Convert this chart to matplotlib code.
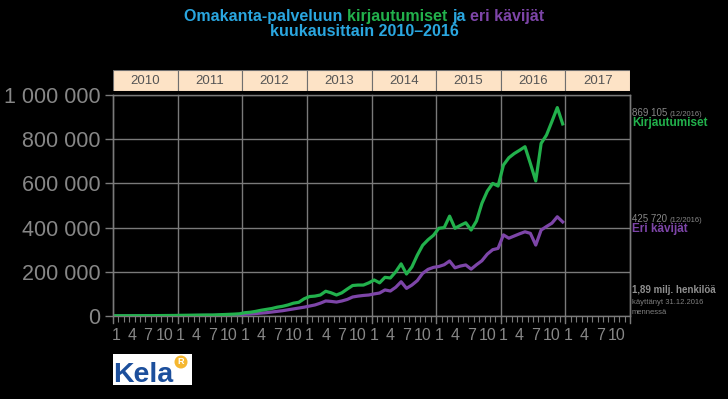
import matplotlib
matplotlib.use("Agg")
import matplotlib.pyplot as plt
import numpy as np
from matplotlib.patches import Rectangle, Circle

plt.rcParams['font.family'] = ['Liberation Sans', 'DejaVu Sans']

# monthly values, Jan..Dec
years = ["2010", "2011", "2012", "2013", "2014", "2015", "2016", "2017"]
month_labels = ["1", "4", "7", "10"]

logins_2010 = [1000, 1100, 1200, 1300, 1400, 1500, 1400, 1600, 1900, 2100, 2300, 2500]
logins_2011 = [3000, 3300, 3600, 4000, 4300, 4600, 4500, 5500, 6500, 7500, 8500, 10000]
logins_2012 = [15000, 17000, 21000, 26000, 30000, 34000, 40000, 44000, 50000, 58000, 62000, 78000]
logins_2013 = [88000, 90000, 95000, 112000, 105000, 95000, 105000, 122000, 138000, 140000, 140000, 150000]
logins_2014 = [163000, 150000, 175000, 172000, 200000, 236000, 190000, 222000, 275000, 320000, 345000, 365000]
logins_2015 = [397000, 400000, 452000, 397000, 410000, 422000, 389000, 430000, 510000, 565000, 600000, 588000]
logins_2016 = [683000, 716000, 735000, 750000, 766000, 690000, 611000, 781000, 819000, 880000, 943000, 869105]

visitors_2010 = [300, 500, 600, 700, 800, 900, 800, 900, 1100, 1200, 1300, 1400]
visitors_2011 = [1600, 1800, 2000, 2200, 2400, 2600, 2500, 3000, 3500, 4000, 4500, 5500]
visitors_2012 = [8000, 9000, 11000, 13000, 15000, 18000, 21000, 24000, 28000, 32000, 36000, 40000]
visitors_2013 = [45000, 50000, 58000, 68000, 66000, 63000, 68000, 75000, 86000, 90000, 93000, 95000]
visitors_2014 = [100000, 104000, 118000, 113000, 130000, 155000, 125000, 140000, 160000, 193000, 211000, 220000]
visitors_2015 = [224000, 232000, 249000, 218000, 226000, 231000, 212000, 232000, 250000, 280000, 300000, 306000]
visitors_2016 = [367000, 352000, 362000, 372000, 381000, 374000, 321000, 389000, 405000, 420000, 449000, 425720]

logins = np.array(logins_2010 + logins_2011 + logins_2012 + logins_2013
                  + logins_2014 + logins_2015 + logins_2016)
visitors = np.array(visitors_2010 + visitors_2011 + visitors_2012 + visitors_2013
                    + visitors_2014 + visitors_2015 + visitors_2016)

BLUE = '#2aa6df'
GREEN = '#22b14c'
PURPLE = '#7d45a8'
GRID = '#7a7a7a'
LABEL = '#878787'

W, H = 728, 399
fig = plt.figure(figsize=(W / 100, H / 100), dpi=100, facecolor='black')
renderer = fig.canvas.get_renderer()


def px(x, y):
    """pixel position (from top left) -> figure fraction"""
    return x / W, 1 - y / H


# main axes
x0, x1, ytop, ybot = 113, 630, 95, 316
ax = fig.add_axes([x0 / W, 1 - ybot / H, (x1 - x0) / W, (ybot - ytop) / H])
ax.set_facecolor('black')
n_slots = 12 * len(years)
ax.set_xlim(0, n_slots)
ax.set_ylim(0, 1000000)

xs = np.arange(len(logins)) + 0.5
ax.plot(xs, visitors, color=PURPLE, lw=2.3, zorder=3, solid_joinstyle='round')
ax.plot(xs, logins, color=GREEN, lw=2.3, zorder=4, solid_joinstyle='round')

# grid
ax.set_yticks(np.arange(0, 1000001, 200000))
ax.set_yticklabels(['0', '200 000', '400 000', '600 000', '800 000', '1 000 000'])
ax.yaxis.grid(True, color=GRID, lw=1)
for k in range(len(years) + 1):
    ax.plot([12 * k, 12 * k], [-0.03, 1], color=GRID, lw=1,
            transform=ax.get_xaxis_transform(), clip_on=False, zorder=2)

ax.set_xticks([12 * k + int(m) - 0.5 for k in range(len(years)) for m in month_labels])
ax.set_xticklabels(month_labels * len(years))
ax.set_xticks(np.arange(0, n_slots + 1), minor=True)
ax.tick_params(axis='x', which='major', length=0, pad=9, labelsize=11.5, labelcolor=LABEL)
ax.tick_params(axis='x', which='minor', length=4, width=0.8, color=GRID)
ax.tick_params(axis='y', length=6, width=1, color=GRID, pad=3, labelsize=15.5, labelcolor=LABEL)
for s in ax.spines.values():
    s.set_color(GRID)
    s.set_linewidth(1)

# year header
hx = fig.add_axes([x0 / W, 1 - 91 / H, (x1 - x0) / W, 21 / H])
hx.set_xlim(0, n_slots)
hx.set_ylim(0, 1)
hx.axis('off')
for k, yr in enumerate(years):
    hx.add_patch(Rectangle((12 * k, 0), 12, 1, facecolor='#fde3c6',
                           edgecolor='#6f6f6f', lw=0.8))
    hx.text(12 * k + 6, 0.5, yr, ha='center', va='center', fontsize=9.5, color='#555555')


def text_run(parts, x, y, center=False):
    """place text pieces one after another on one baseline (pixels)"""
    texts = []
    off = 0
    for s, c, size, weight in parts:
        t = fig.text(0, 1 - y / H, s, color=c, fontsize=size, fontweight=weight,
                     va='baseline', ha='left')
        texts.append((t, off))
        off += t.get_window_extent(renderer).width
    start = (W - off) / 2 if center else x
    for t, o in texts:
        t.set_x((start + o) / W)


# title
text_run([("Omakanta-palveluun ", BLUE, 11.5, 'bold'),
          ("kirjautumiset ", GREEN, 11.5, 'bold'),
          ("ja ", BLUE, 11.5, 'bold'),
          ("eri kävijät", PURPLE, 11.5, 'bold')], 0, 21, center=True)
text_run([("kuukausittain 2010–2016", BLUE, 11.5, 'bold')], 0, 36.5, center=True)

# right side notes
text_run([("869 105 ", LABEL, 7, 'normal'), ("(12/2016)", LABEL, 5.5, 'normal')], 632, 116)
text_run([("Kirjautumiset", GREEN, 8.5, 'bold')], 632, 126)
text_run([("425 720 ", LABEL, 7, 'normal'), ("(12/2016)", LABEL, 5.5, 'normal')], 632, 222)
text_run([("Eri kävijät", PURPLE, 8.5, 'bold')], 632, 232)
text_run([("1,89 milj. henkilöä", '#8f8f8f', 7, 'bold')], 632, 293)
text_run([("käyttänyt 31.12.2016", '#7f7f7f', 5.5, 'normal')], 632, 304)
text_run([("mennessä", '#7f7f7f', 5.5, 'normal')], 632, 314)

# Kela logo (display pixels, origin bottom left)
fig.patches.append(Rectangle((113, H - 385), 79, 31, facecolor='white', edgecolor='none'))
fig.text(*px(113, 382), "Kela", color='#1c4f9c', fontsize=20.5, fontweight='bold',
         va='baseline')
fig.patches.append(Circle((181, H - 362), 6.5, facecolor='#f5b730', edgecolor='none'))
fig.text(*px(181, 362), "R", color='white', fontsize=6.5, fontweight='bold',
         ha='center', va='center')

fig.savefig('out.png', dpi=100, facecolor='black')
